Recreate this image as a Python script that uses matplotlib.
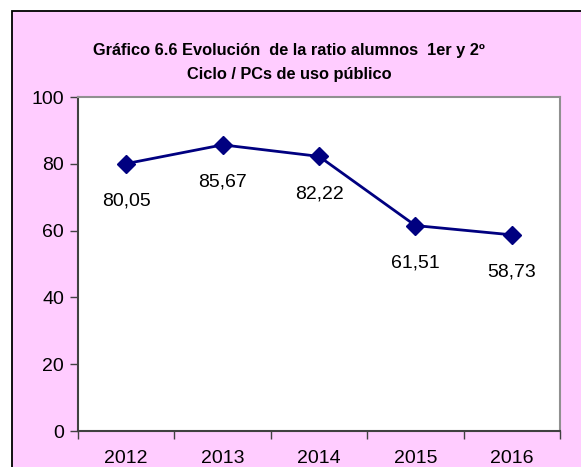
import matplotlib.pyplot as plt
import matplotlib.patches as patches
import numpy as np

years = ['2012', '2013', '2014', '2015', '2016']
ratio = [80.05, 85.67, 82.22, 61.51, 58.73]
ratio_labels = ['80,05', '85,67', '82,22', '61,51', '58,73']

W, H = 581, 467
plt.rcParams['font.family'] = ['Liberation Sans Narrow', 'Liberation Sans', 'DejaVu Sans']

fig = plt.figure(figsize=(W / 100, H / 100), dpi=100)
fig.patch.set_facecolor('white')

# pink chart area with black frame
bg = patches.Rectangle((12 / W, -0.1), 1.0, (H - 11) / H + 0.1, transform=fig.transFigure,
                       facecolor='#ffccff', edgecolor='black', linewidth=1.3, zorder=-5)
fig.patches.append(bg)

fig.text(289 / W, 1 - 50 / H, 'Gráfico 6.6 Evolución  de la ratio alumnos  1er y 2º',
         ha='center', va='center', fontsize=11.8, fontweight='bold')
fig.text(289 / W, 1 - 75 / H, 'Ciclo / PCs de uso público',
         ha='center', va='center', fontsize=11.8, fontweight='bold')

ax = fig.add_axes([78 / W, (H - 431) / H, (560 - 78) / W, (431 - 97) / H])
ax.set_facecolor('white')

x = np.arange(len(years))
ax.plot(x, ratio, color='#000080', linewidth=2, marker='D', markersize=9, zorder=3)
for xi, yi, lab in zip(x, ratio, ratio_labels):
    ax.text(xi, yi - 11.2, lab, ha='center', va='center', fontsize=14)

ax.set_xlim(-0.5, len(years) - 0.5)
ax.set_ylim(0, 100)
ax.set_yticks(np.arange(0, 101, 20))
ax.set_xticks(np.arange(-0.5, len(years)), labels=[])
ax.set_xticks(x, labels=years, minor=True)
ax.tick_params(axis='x', which='major', direction='out', length=6, width=1, color='#404040')
ax.tick_params(axis='x', which='minor', length=0, labelsize=14, pad=14)
ax.tick_params(axis='y', direction='out', length=6, width=1, color='#404040', labelsize=14, pad=4)

for side in ['top', 'right']:
    ax.spines[side].set_color('#909090')
    ax.spines[side].set_linewidth(1.5)
for side in ['left', 'bottom']:
    ax.spines[side].set_color('#404040')
    ax.spines[side].set_linewidth(1.5)

fig.savefig('out.png', dpi=100)
